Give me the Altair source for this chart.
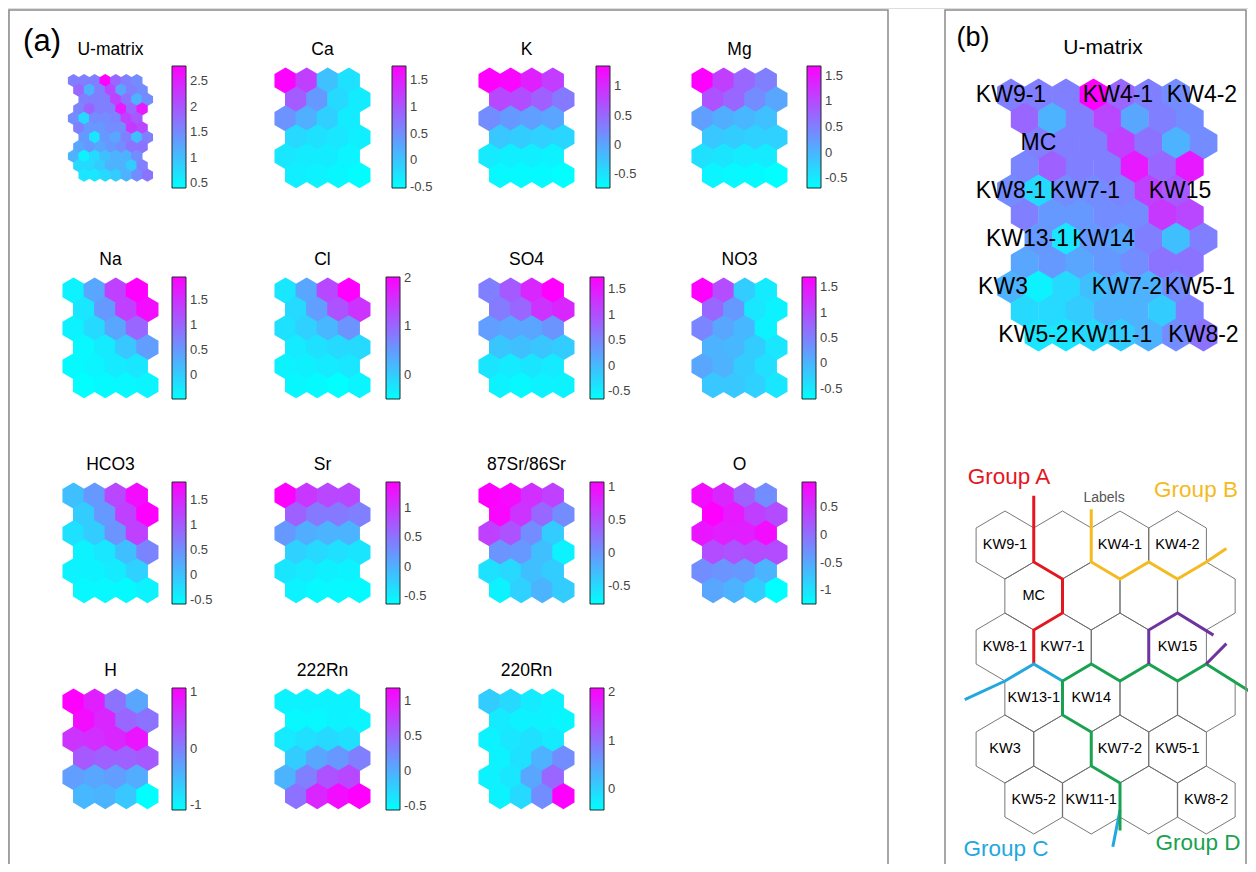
import altair as alt
import pandas as pd

# ------------------------------------------------------------------ data
# U-matrix (11 rows x 7 columns), shared by panel (a) and panel (b)
UMATRIX = [
    [1.60, 1.60, 1.60, 2.80, 1.84, 1.60, 1.48],
    [1.84, 1.12, 1.60, 2.13, 1.24, 1.60, 1.48],
    [1.60, 1.60, 1.60, 2.20, 1.72, 1.12, 1.48],
    [1.55, 1.89, 1.60, 1.60, 2.56, 1.84, 2.56],
    [1.48, 0.76, 1.48, 1.48, 1.55, 2.20, 1.96],
    [1.60, 1.36, 1.36, 1.48, 1.48, 2.27, 2.13],
    [1.36, 0.64, 1.36, 1.24, 1.60, 1.00, 1.60],
    [1.24, 1.36, 1.24, 1.36, 1.48, 1.72, 1.72],
    [1.12, 0.52, 0.76, 1.00, 1.12, 1.12, 1.48],
    [0.76, 0.76, 0.88, 1.12, 1.12, 0.88, 1.60],
    [0.64, 0.64, 0.76, 0.88, 1.12, 1.48, 1.72],
]
UMATRIX_RANGE = [0.40, 2.80]
UMATRIX_TICKS = [0.5, 1, 1.5, 2, 2.5]

# component planes (6 rows x 4 columns)
CA = [[1.75, 1.20, 0.05, -0.25], [0.95, 0.40, -0.18, -0.35], [0.45, 0.20, -0.10, -0.35],
      [-0.17, -0.25, -0.30, -0.38], [-0.30, -0.35, -0.35, -0.42], [-0.38, -0.40, -0.45, -0.50]]
CA_RANGE, CA_TICKS = [-0.52, 1.77], [-0.5, 0, 0.5, 1, 1.5]

K = [[1.35, 1.30, 1.10, 0.85], [0.76, 0.72, 0.56, 0.35], [0.20, 0.10, 0.05, 0.00],
     [-0.28, -0.32, -0.36, -0.40], [-0.57, -0.61, -0.61, -0.64], [-0.68, -0.70, -0.70, -0.74]]
K_RANGE, K_TICKS = [-0.74, 1.35], [-0.5, 0, 0.5, 1]

MG = [[1.69, 1.10, 0.74, 0.50], [0.93, 0.74, 0.38, 0.14], [0.21, 0.07, -0.02, -0.10],
      [-0.17, -0.21, -0.26, -0.26], [-0.40, -0.45, -0.50, -0.50], [-0.60, -0.62, -0.64, -0.69]]
MG_RANGE, MG_TICKS = [-0.69, 1.69], [-0.5, 0, 0.5, 1, 1.5]

NA = [[-0.36, 0.37, 1.34, 1.95], [-0.24, 0.49, 1.34, 1.83], [-0.36, -0.12, 0.37, 0.98],
      [-0.41, -0.29, 0.05, 0.44], [-0.43, -0.38, -0.29, -0.24], [-0.48, -0.43, -0.41, -0.38]]
NA_RANGE, NA_TICKS = [-0.48, 1.95], [0, 0.5, 1, 1.5]

CL = [[-0.25, 0.38, 1.31, 2.02], [-0.12, 0.46, 1.21, 1.52], [-0.20, -0.05, 0.21, 0.56],
      [-0.30, -0.20, -0.12, -0.12], [-0.37, -0.35, -0.30, -0.25], [-0.42, -0.45, -0.50, -0.40]]
CL_RANGE, CL_TICKS = [-0.50, 2.02], [0, 1, 2]

SO4 = [[0.55, 0.90, 1.38, 1.74], [0.59, 0.78, 1.26, 1.38], [0.26, 0.19, 0.19, 0.35],
       [-0.12, -0.05, -0.12, -0.17], [-0.41, -0.46, -0.41, -0.46], [-0.53, -0.58, -0.53, -0.53]]
SO4_RANGE, SO4_TICKS = [-0.65, 1.74], [-0.5, 0, 0.5, 1, 1.5]

NO3 = [[1.70, 0.98, -0.22, -0.51], [0.74, 0.26, -0.46, -0.58], [0.45, 0.14, -0.03, -0.58],
       [0.02, -0.03, -0.22, -0.46], [0.14, 0.02, -0.22, -0.41], [-0.17, -0.17, -0.27, -0.46]]
NO3_RANGE, NO3_TICKS = [-0.70, 1.70], [-0.5, 0, 0.5, 1, 1.5]

HCO3 = [[0.04, 0.40, 1.18, 1.74], [-0.08, 0.40, 1.25, 1.86], [-0.28, -0.08, 0.45, 1.25],
        [-0.45, -0.33, 0.04, 0.60], [-0.45, -0.45, -0.38, -0.13], [-0.50, -0.50, -0.52, -0.45]]
HCO3_RANGE, HCO3_TICKS = [-0.57, 1.86], [-0.5, 0, 0.5, 1, 1.5]

SR = [[1.44, 1.00, 0.86, 0.86], [0.65, 0.45, 0.45, 0.41], [0.20, 0.03, -0.01, -0.01],
      [-0.26, -0.32, -0.38, -0.42], [-0.42, -0.46, -0.51, -0.53], [-0.53, -0.57, -0.57, -0.59]]
SR_RANGE, SR_TICKS = [-0.63, 1.44], [-0.5, 0, 0.5, 1]

SR87 = [[1.07, 1.00, 0.74, 0.61], [1.03, 0.70, 0.33, 0.06], [0.61, 0.48, 0.06, -0.40],
        [0.00, -0.03, -0.31, -0.68], [-0.55, -0.49, -0.31, -0.40], [-0.68, -0.44, -0.22, -0.40]]
SR87_RANGE, SR87_TICKS = [-0.77, 1.07], [-0.5, 0, 0.5, 1]

O = [[0.85, 0.63, 0.12, -0.26], [0.96, 0.74, 0.41, 0.30], [0.78, 0.70, 0.70, 0.85],
     [0.30, 0.25, 0.30, 0.30], [-0.26, -0.32, -0.37, -0.59], [-0.48, -0.59, -0.81, -1.25]]
O_RANGE, O_TICKS = [-1.25, 0.96], [-1, -0.5, 0, 0.5]

H = [[1.07, 0.81, 0.10, -0.33], [0.96, 0.75, 0.21, 0.10], [0.64, 0.68, 0.75, 0.90],
     [0.32, 0.25, 0.25, 0.32], [-0.26, -0.33, -0.26, -0.39], [-0.48, -0.44, -0.61, -1.08]]
H_RANGE, H_TICKS = [-1.08, 1.07], [-1, 0, 1]

RN222 = [[-0.46, -0.46, -0.46, -0.46], [-0.50, -0.50, -0.46, -0.48], [-0.41, -0.34, -0.29, -0.34],
         [-0.20, 0.06, 0.15, 0.32], [-0.03, 0.32, 0.63, 0.70], [0.41, 0.93, 1.10, 1.19]]
RN222_RANGE, RN222_TICKS = [-0.55, 1.19], [-0.5, 0, 0.5, 1]

RN220 = [[0.07, -0.05, -0.23, -0.30], [-0.23, -0.30, -0.30, -0.35], [-0.30, -0.18, -0.13, -0.23],
         [-0.30, -0.13, 0.33, 0.70], [-0.30, -0.18, 0.45, 1.08], [-0.30, -0.05, 0.70, 2.09]]
RN220_RANGE, RN220_TICKS = [-0.43, 2.09], [0, 1, 2]

PANEL_TITLES = [["U-matrix", "Ca", "K", "Mg"],
                ["Na", "Cl", "SO4", "NO3"],
                ["HCO3", "Sr", "87Sr/86Sr", "O"],
                ["H", "222Rn", "220Rn"]]
PANEL_VALUES = [[UMATRIX, CA, K, MG], [NA, CL, SO4, NO3], [HCO3, SR, SR87, O], [H, RN222, RN220]]
PANEL_RANGES = [[UMATRIX_RANGE, CA_RANGE, K_RANGE, MG_RANGE], [NA_RANGE, CL_RANGE, SO4_RANGE, NO3_RANGE],
                [HCO3_RANGE, SR_RANGE, SR87_RANGE, O_RANGE], [H_RANGE, RN222_RANGE, RN220_RANGE]]
PANEL_TICKS = [[UMATRIX_TICKS, CA_TICKS, K_TICKS, MG_TICKS], [NA_TICKS, CL_TICKS, SO4_TICKS, NO3_TICKS],
               [HCO3_TICKS, SR_TICKS, SR87_TICKS, O_TICKS], [H_TICKS, RN222_TICKS, RN220_TICKS]]

# sample labels on the map: (name, map column, map row)
UNIT_LABELS = ["KW9-1", "KW4-1", "KW4-2", "MC", "KW8-1", "KW7-1", "KW15", "KW13-1", "KW14",
               "KW3", "KW7-2", "KW5-1", "KW5-2", "KW11-1", "KW8-2"]
UNIT_COLS = [0, 2, 3, 0, 0, 1, 3, 0, 1, 0, 2, 3, 0, 1, 3]
UNIT_ROWS = [0, 0, 0, 1, 2, 2, 2, 3, 3, 4, 4, 4, 5, 5, 5]

# group boundaries on the hex grid: (half-column, third-of-row) vertex coordinates
GROUP_NAMES = ["Group A", "Group B", "Group C", "Group D", "Sub"]
GROUP_COLORS = ["#e3171f", "#f4bb21", "#22a7de", "#19a24f", "#6f33a0"]
GROUP_SEGMENTS = [
    ("Group A", [(1, -2.9), (1, 1), (2, 2), (2, 4), (1, 5), (1, 7)]),
    ("Group B", [(3, -2.1), (3, 1), (4, 2), (5, 1), (6, 2), (7, 1), (7.7, 0.2)]),
    ("Group C", [(-1.4, 9.1), (0, 8), (1, 7), (2, 8)]),
    ("Group C", [(4, 15.6), (3.75, 17.75)]),
    ("Group D", [(4, 16.8), (4, 14), (3, 13), (3, 11), (2, 10), (2, 8), (3, 7), (4, 8),
                 (5, 7), (6, 8), (7, 7), (8.6, 8.7)]),
    ("Sub", [(5, 7), (5, 5), (6, 4), (7.25, 5.3)]),
    ("Sub", [(7, 7), (7.7, 5.8)]),
]

# ------------------------------------------------------------------ layout
W, H_ = 1240, 856
XS = alt.Scale(domain=[8, 8 + W], nice=False, zero=False)
YS = alt.Scale(domain=[8, 8 + H_], reverse=True, nice=False, zero=False)
HEX = "M0,-1L0.85,-0.5L0.85,0.5L0,1L-0.85,0.5L-0.85,-0.5Z"
FONT = "Liberation Sans"

COL_LEFT = [63, 275, 479, 692]
ROW_TOP = [68, 278, 483, 689]
BAR_LEFT = [[172, 392, 596, 807], [172, 386, 590, 802], [172, 386, 590, 802], [172, 386, 590, 802]]
BAR_TOP_OFF = [-2, -1, -1, -1]
BAR_W, BAR_LEN = 14, 122
HW, HH, DY = 10.55, 12.6, 18.9          # component-plane hexagon geometry (panel a)

UB_X0, UB_Y0, UB_DX, UB_DY, UB_HH = 1011, 95, 27.5, 24, 16      # U-matrix in panel b
LABEL_NUDGE = [0, -3, 26, 0, 0, 19, 4, -11, 10, -8, 6, 24, -5, 18, 0]
DG_X0, DG_Y0, DG_HX, DG_T, DG_HH = 1005, 545, 28.75, 17, 34     # label diagram in panel b

U_SHIFT = [0, 0.5, 1, 0.5]


def cool_scale(rng):
    return alt.Scale(domain=rng, range=["#00ffff", "#ff00ff"], interpolate="rgb", nice=False, zero=False)


def bar_legend(bx, by, ticks):
    return alt.Legend(orient="none", legendX=bx - 8, legendY=by - 8, direction="vertical",
                      title=None, values=ticks, gradientLength=BAR_LEN, gradientThickness=BAR_W,
                      gradientStrokeColor="#1e2b2b", gradientStrokeWidth=1, labelFont=FONT,
                      labelFontSize=13, labelColor="#454545", labelOffset=4, labelOverlap=False,
                      labelExpr="'' + datum.value", padding=0, offset=0)


def hex_layer(df, size, rng, legend):
    return alt.Chart(df).mark_point(shape=HEX, size=size, filled=True, opacity=1).encode(
        x=alt.X("px:Q", scale=XS, axis=None),
        y=alt.Y("py:Q", scale=YS, axis=None),
        color=alt.Color("v:Q", scale=cool_scale(rng), legend=legend),
    )


layers = []
titles = []
for i, row_titles in enumerate(PANEL_TITLES):
    for j, name in enumerate(row_titles):
        left, top = COL_LEFT[j], ROW_TOP[i]
        vals = PANEL_VALUES[i][j]
        recs = []
        if name == "U-matrix":
            for r, row in enumerate(vals):
                for c, v in enumerate(row):
                    recs.append(dict(px=left + HW + (c + U_SHIFT[r % 4]) * HW, py=top + HH + r * DY / 2, v=v))
            size = (2 * (HH / 2 + 0.35)) ** 2
        else:
            for r, row in enumerate(vals):
                for c, v in enumerate(row):
                    recs.append(dict(px=left + HW + (2 * c + r % 2) * HW, py=top + HH + r * DY, v=v))
            size = (2 * (HH + 0.45)) ** 2
        leg = bar_legend(BAR_LEFT[i][j], top + BAR_TOP_OFF[i], PANEL_TICKS[i][j])
        layers.append(hex_layer(pd.DataFrame(recs), size, PANEL_RANGES[i][j], leg))
        titles.append(dict(px=left + 4.5 * HW, py=top - 18, t=name))

# U-matrix of panel (b)
recs = []
for r, row in enumerate(UMATRIX):
    for c, v in enumerate(row):
        recs.append(dict(px=UB_X0 + (c + U_SHIFT[r % 4]) * UB_DX, py=UB_Y0 + r * UB_DY, v=v))
layers.append(hex_layer(pd.DataFrame(recs), (2 * (UB_HH + 0.4)) ** 2, UMATRIX_RANGE, None))

# hexagon outline diagram
recs = []
for r in range(6):
    for c in range(4):
        recs.append(dict(px=DG_X0 + (2 * c + r % 2) * DG_HX, py=DG_Y0 + 3 * r * DG_T))
outline = alt.Chart(pd.DataFrame(recs)).mark_point(
    shape=HEX, size=(2 * DG_HH) ** 2, filled=False, opacity=1, color="#6a6a6a", strokeWidth=0.9
).encode(x=alt.X("px:Q", scale=XS, axis=None), y=alt.Y("py:Q", scale=YS, axis=None))
layers.append(outline)

# group boundary lines
recs = []
for s, (g, pts) in enumerate(GROUP_SEGMENTS):
    for k, (hx, t) in enumerate(pts):
        recs.append(dict(seg=s, ord=k, grp=g, px=DG_X0 + hx * DG_HX, py=DG_Y0 + t * DG_T))
group_scale = alt.Scale(domain=GROUP_NAMES, range=GROUP_COLORS)
lines = alt.Chart(pd.DataFrame(recs)).mark_line(strokeWidth=3, strokeCap="butt", strokeJoin="miter").encode(
    x=alt.X("px:Q", scale=XS, axis=None), y=alt.Y("py:Q", scale=YS, axis=None),
    detail="seg:N", order="ord:Q",
    color=alt.Color("grp:N", scale=group_scale, legend=None),
)
layers.append(lines)


def text_layer(df, size, color="black", **kw):
    return alt.Chart(df).mark_text(font=FONT, fontSize=size, color=color, align="center",
                                   baseline="middle", **kw).encode(
        x=alt.X("px:Q", scale=XS, axis=None), y=alt.Y("py:Q", scale=YS, axis=None), text="t:N")


layers.append(text_layer(pd.DataFrame(titles), 17.5))

# labels on U-matrix (b)
lab_b = [dict(px=UB_X0 + (2 * c + r % 2) * UB_DX + n, py=UB_Y0 + 2 * r * UB_DY, t=t)
         for t, c, r, n in zip(UNIT_LABELS, UNIT_COLS, UNIT_ROWS, LABEL_NUDGE)]
layers.append(text_layer(pd.DataFrame(lab_b), 23))

# labels on diagram
lab_d = [dict(px=DG_X0 + (2 * c + r % 2) * DG_HX, py=DG_Y0 + 3 * r * DG_T, t=t)
         for t, c, r in zip(UNIT_LABELS, UNIT_COLS, UNIT_ROWS)]
layers.append(text_layer(pd.DataFrame(lab_d), 14.5))

# group names
grp_txt = pd.DataFrame(dict(px=[1009, 1196, 1006, 1198], py=[477, 490, 849, 843],
                            t=["Group A", "Group B", "Group C", "Group D"],
                            grp=["Group A", "Group B", "Group C", "Group D"]))
layers.append(alt.Chart(grp_txt).mark_text(font=FONT, fontSize=22.5, align="center", baseline="middle").encode(
    x=alt.X("px:Q", scale=XS, axis=None), y=alt.Y("py:Q", scale=YS, axis=None), text="t:N",
    color=alt.Color("grp:N", scale=group_scale, legend=None)))
layers.append(text_layer(pd.DataFrame(dict(px=[1104], py=[498], t=["Labels"])), 14, color="#555555"))

# panel headings
layers.append(text_layer(pd.DataFrame(dict(px=[1103], py=[48], t=["U-matrix"])), 21))
layers.append(text_layer(pd.DataFrame(dict(px=[42], py=[42], t=["(a)"])), 31))
layers.append(text_layer(pd.DataFrame(dict(px=[973], py=[38], t=["(b)"])), 27))

# frames
frames = pd.DataFrame(dict(x1=[9, 945], x2=[888, 1246], y1=[10, 10], y2=[900, 900]))
layers.append(alt.Chart(frames).mark_rect(fillOpacity=0, stroke="#8a8a8a", strokeWidth=1.5).encode(
    x=alt.X("x1:Q", scale=XS, axis=None), x2="x2:Q",
    y=alt.Y("y1:Q", scale=YS, axis=None), y2="y2:Q"))

chart = alt.layer(*layers).resolve_scale(color="independent").properties(
    width=W, height=H_, autosize=alt.AutoSizeParams(type="none"), padding=0
).configure_view(strokeWidth=0).configure(background="white")

chart.save("out.html", embed_options={"renderer": "svg", "actions": False})
